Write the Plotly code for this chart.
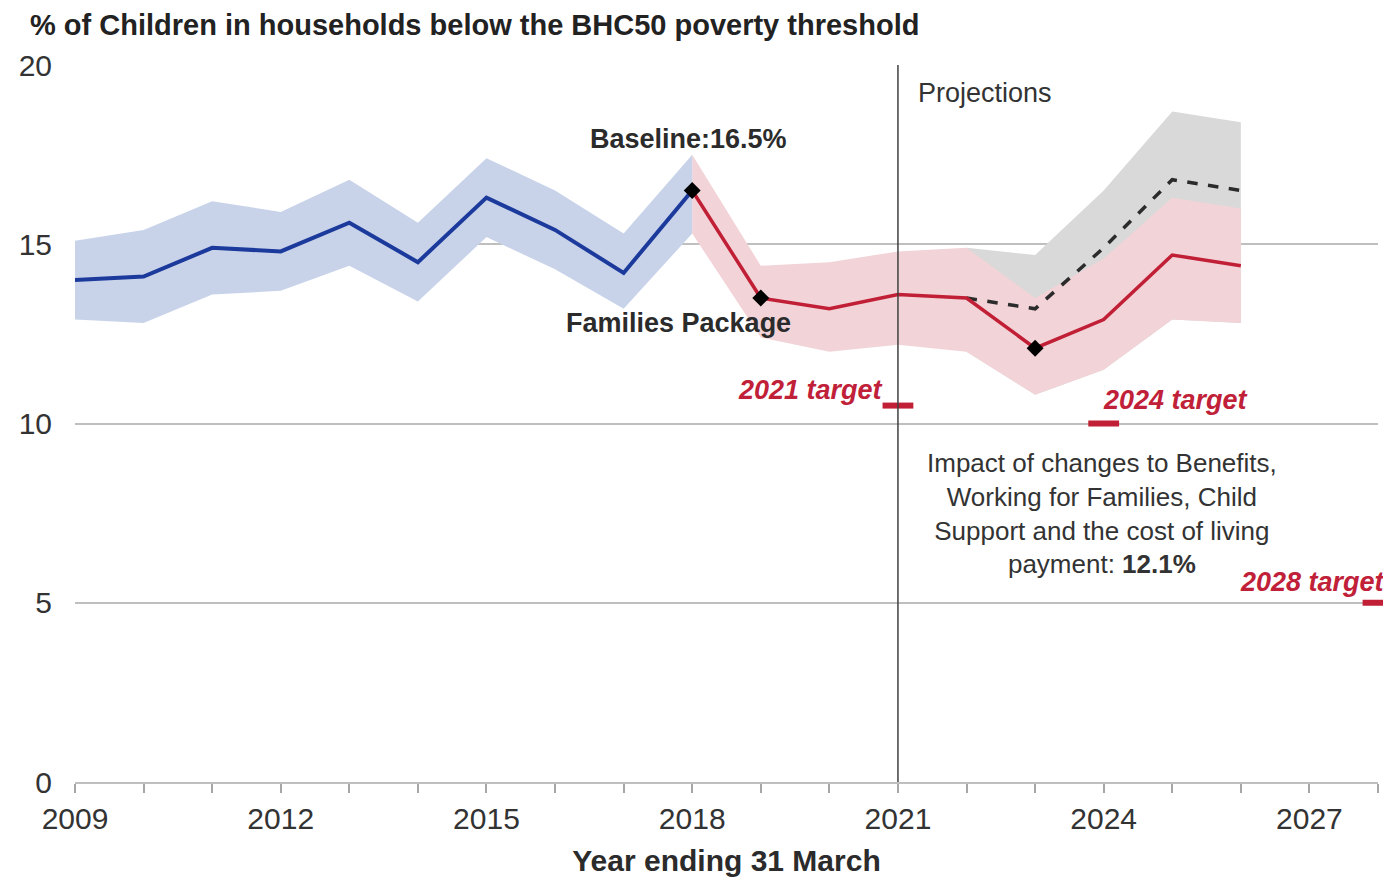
import plotly.graph_objects as go

# ---- data ----
hist_years = [2009, 2010, 2011, 2012, 2013, 2014, 2015, 2016, 2017, 2018]
hist_rate = [14.0, 14.1, 14.9, 14.8, 15.6, 14.5, 16.3, 15.4, 14.2, 16.5]
hist_upper = [15.1, 15.4, 16.2, 15.9, 16.8, 15.6, 17.4, 16.5, 15.3, 17.5]
hist_lower = [12.9, 12.8, 13.6, 13.7, 14.4, 13.4, 15.2, 14.3, 13.2, 15.3]

proj_years = [2018, 2019, 2020, 2021, 2022, 2023, 2024, 2025, 2026]
proj_rate = [16.5, 13.5, 13.2, 13.6, 13.5, 12.1, 12.9, 14.7, 14.4]
proj_upper = [17.5, 14.4, 14.5, 14.8, 14.9, 13.5, 14.6, 16.3, 16.0]
proj_lower = [15.3, 12.4, 12.0, 12.2, 12.0, 10.8, 11.5, 12.9, 12.8]

cf_years = [2022, 2023, 2024, 2025, 2026]
cf_rate = [13.5, 13.2, 14.9, 16.8, 16.5]
cf_upper = [14.9, 14.7, 16.5, 18.7, 18.4]
cf_lower = [12.0, 10.8, 11.5, 12.9, 12.8]

marker_years = [2018, 2019, 2023]
marker_vals = [16.5, 13.5, 12.1]

target_years = [2021, 2024, 2028]
target_vals = [10.5, 10.0, 5.0]
target_labels = ["2021 target", "2024 target", "2028 target"]

x_ticks = [2009, 2012, 2015, 2018, 2021, 2024, 2027]
y_ticks = [0, 5, 10, 15, 20]

FONT = "Liberation Sans, Arial, sans-serif"
BLUE = "#1c3a9c"
RED = "#c01f36"
RED_TXT = "#c02038"

fig = go.Figure()

# grey counterfactual band
fig.add_trace(go.Scatter(x=cf_years, y=cf_lower, mode="lines", line=dict(width=0),
                         hoverinfo="skip", showlegend=False))
fig.add_trace(go.Scatter(x=cf_years, y=cf_upper, mode="lines", line=dict(width=0),
                         fill="tonexty", fillcolor="#d9d9d9", hoverinfo="skip", showlegend=False))
# red projection band
fig.add_trace(go.Scatter(x=proj_years, y=proj_lower, mode="lines", line=dict(width=0),
                         hoverinfo="skip", showlegend=False))
fig.add_trace(go.Scatter(x=proj_years, y=proj_upper, mode="lines", line=dict(width=0),
                         fill="tonexty", fillcolor="#f2d3d7", hoverinfo="skip", showlegend=False))
# blue historical band
fig.add_trace(go.Scatter(x=hist_years, y=hist_lower, mode="lines", line=dict(width=0),
                         hoverinfo="skip", showlegend=False))
fig.add_trace(go.Scatter(x=hist_years, y=hist_upper, mode="lines", line=dict(width=0),
                         fill="tonexty", fillcolor="#c8d3ea", hoverinfo="skip", showlegend=False))

# lines
fig.add_trace(go.Scatter(x=cf_years, y=cf_rate, mode="lines",
                         line=dict(color="#2b2b2b", width=3.5, dash="dash"), showlegend=False))
fig.add_trace(go.Scatter(x=hist_years, y=hist_rate, mode="lines",
                         line=dict(color=BLUE, width=4), showlegend=False))
fig.add_trace(go.Scatter(x=proj_years, y=proj_rate, mode="lines",
                         line=dict(color=RED, width=3.5), showlegend=False))
fig.add_trace(go.Scatter(x=marker_years, y=marker_vals, mode="markers",
                         marker=dict(symbol="diamond", size=13, color="#000000"), showlegend=False))

# targets
fig.add_trace(go.Scatter(x=target_years, y=target_vals, mode="markers", cliponaxis=False,
                         marker=dict(symbol="line-ew", size=22,
                                     line=dict(color=RED, width=6)),
                         showlegend=False))

# projections divider
fig.add_shape(type="line", x0=2021, x1=2021, y0=0, y1=20, xref="x", yref="y",
              line=dict(color="#404040", width=1.5))

ann_font = dict(family=FONT, size=27, color="#2b2b2b")
fig.add_annotation(x=2017.95, y=17.93, text="<b>Baseline:16.5%</b>", showarrow=False,
                   font=ann_font)
fig.add_annotation(x=2017.8, y=12.8, text="<b>Families Package</b>", showarrow=False,
                   font=ann_font)
fig.add_annotation(x=2022.27, y=19.22, text="Projections", showarrow=False,
                   font=dict(family=FONT, size=27, color="#333333"))
fig.add_annotation(x=2023.98, y=7.5,
                   text="Impact of changes to Benefits,<br>Working for Families, Child<br>"
                        "Support and the cost of living<br>payment: <b>12.1%</b>",
                   showarrow=False, align="center",
                   font=dict(family=FONT, size=26, color="#333333"))

target_pos = [(2019.73, 10.93), (2025.05, 10.65), (2027.05, 5.58)]
for (tx, ty), lab in zip(target_pos, target_labels):
    fig.add_annotation(x=tx, y=ty, text="<b><i>" + lab + "</i></b>", showarrow=False,
                       font=dict(family=FONT, size=27, color=RED_TXT))

fig.update_layout(
    width=1391, height=880,
    margin=dict(l=67, r=21, t=57, b=106),
    paper_bgcolor="white", plot_bgcolor="white",
    title=dict(text="<b>% of Children in households below the BHC50 poverty threshold</b>",
               x=22 / 1391, xanchor="left", y=1 - 17 / 880, yanchor="middle",
               font=dict(family=FONT, size=29, color="#222222")),
    font=dict(family=FONT, color="#333333"),
)

fig.update_xaxes(
    range=[2009, 2028], tickvals=x_ticks, ticktext=[str(v) for v in x_ticks],
    automargin=False,
    showgrid=False, zeroline=False,
    showline=True, linecolor="#bfbfbf", linewidth=2,
    ticks="outside", ticklen=9, tickcolor="#a6a6a6", tickwidth=1.5,
    minor=dict(dtick=1, tick0=2009, ticks="outside", ticklen=9, tickcolor="#a6a6a6", tickwidth=1.5),
    tickfont=dict(family=FONT, size=30, color="#333333"),
    title=dict(text="<b>Year ending 31 March</b>", standoff=16,
               font=dict(family=FONT, size=30, color="#2b2b2b")),
)
fig.update_yaxes(
    range=[0, 20], tickvals=y_ticks,
    automargin=False,
    showgrid=True, gridcolor="#bfbfbf", gridwidth=2,
    zeroline=False, showline=False, ticks="",
    ticklabelstandoff=22,
    tickfont=dict(family=FONT, size=30, color="#333333"),
)

fig.write_html("out.html")
